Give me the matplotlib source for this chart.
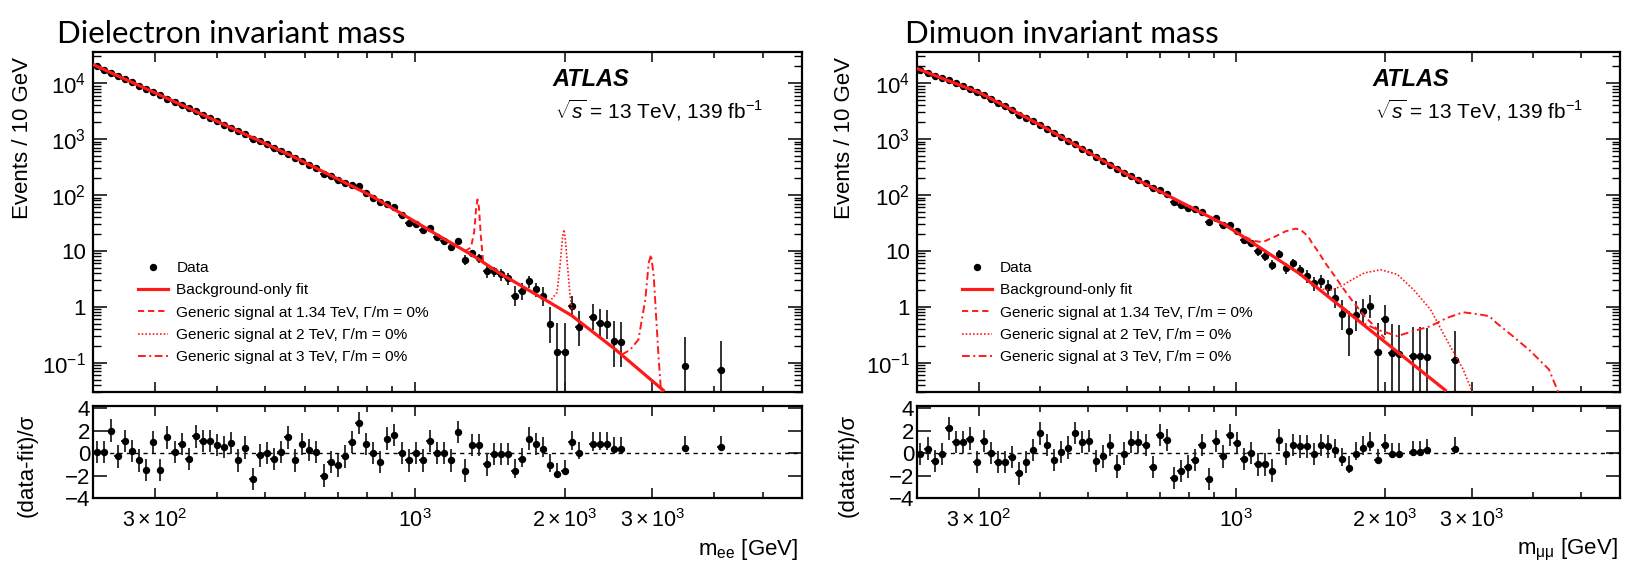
import numpy as np
import matplotlib
matplotlib.use("Agg")
import matplotlib.pyplot as plt
from matplotlib.lines import Line2D
from matplotlib.ticker import FixedLocator, FixedFormatter, NullFormatter

plt.rcParams['font.family'] = ['Liberation Sans', 'DejaVu Sans']
plt.rcParams['mathtext.fontset'] = 'custom'
plt.rcParams['mathtext.rm'] = 'Liberation Sans'
plt.rcParams['mathtext.it'] = 'Liberation Sans:italic'
plt.rcParams['mathtext.bf'] = 'Liberation Sans:bold'

nan = np.nan

# log-spaced bin centres [GeV], shared by both channels
MASS = [
    228.7, 236.4, 244.3, 252.5, 260.9, 269.6, 278.6, 287.9, 297.5, 307.4,
    317.7, 328.3, 339.3, 350.6, 362.3, 374.4, 386.9, 399.8, 413.2, 426.9,
    441.2, 455.9, 471.1, 486.9, 503.1, 519.9, 537.3, 555.2, 573.7, 592.9,
    612.7, 633.1, 654.3, 676.1, 698.7, 722.0, 746.1, 771.0, 796.8, 823.4,
    850.9, 879.3, 908.6, 939.0, 970.3, 1002.3, 1035.8, 1070.4, 1106.1, 1143.0,
    1181.2, 1220.6, 1261.4, 1303.5, 1347.0, 1392.0, 1438.5, 1486.5, 1536.1, 1587.4,
    1640.4, 1695.2, 1751.8, 1810.3, 1870.7, 1933.2, 1997.7, 2064.4, 2133.3, 2204.5,
    2278.1, 2354.2, 2432.8, 2514.0, 2597.9, 2684.6, 2774.2, 2866.8, 2962.5, 3061.4,
    3163.6, 3269.2, 3378.3, 3491.1, 3607.6, 3728.0, 3852.5, 3981.1, 4114.0,
]
BIN_WIDTH_FRAC = 0.03283   # bin width / centre
HALF_UP, HALF_DN = 0.01655, 0.01628

# events / 10 GeV
EE_EVENTS = [
    19900, 17400, 15300, 13300, 11700, 10300, 8970, 7850, 6900, 6030,
    5300, 4630, 4070, 3550, 3110, 2720, 2380, 2070, 1810, 1580,
    1375, 1210, 1000, 918, 804, 700, 615, 540, 463, 402,
    347, 299, 236, 215, 184, 164, 149, 143, 108, 90,
    75, 69.5, 60, 44.5, 31.6, 29.7, 24, 25.7, 18, 14.8,
    11.8, 14.8, 7.0, 9.1, 7.5, 4.3, 4.3, 3.8, 3.3, 1.55,
    1.9, 2.9, 2.1, 1.55, 0.50, 0.153, 0.153, 1.03, 0.43, nan,
    0.67, 0.52, 0.50, 0.242, 0.235, nan, nan, nan, nan, nan,
    nan, nan, nan, 0.087, nan, nan, nan, nan, 0.074,
]
EE_PULL = [
    0.1, 0.1, 2.0, -0.3, 1.1, 0.2, -0.65, -1.5, 1.0, -1.5,
    1.4, 0.1, 0.8, -0.5, 1.5, 1.1, 1.1, 0.7, 0.55, 0.9,
    -0.65, 0.5, -2.3, -0.2, 0.0, -0.5, 0.1, 1.4, -0.65, 0.8,
    0.3, 0.1, -2.0, -0.8, -1.1, -0.3, 1.0, 2.7, 0.8, 0.0,
    -0.8, 1.3, 1.6, 0.0, -0.65, 0.0, -0.65, 1.1, 0.0, 0.0,
    -0.65, 1.9, -1.55, 0.7, 0.7, -1.0, -0.1, -0.1, -0.1, -1.55,
    -0.5, 1.3, 0.8, 0.4, -1.1, -1.9, -1.6, 1.0, 0.0, nan,
    0.85, 0.85, 0.85, 0.4, 0.4, nan, nan, nan, nan, nan,
    nan, nan, nan, 0.5, nan, nan, nan, nan, 0.55,
]
MM_EVENTS = [
    17200, 15400, 13600, 12300, 11200, 9850, 8800, 7900, 6980, 6200,
    5280, 4500, 3850, 3300, 2740, 2410, 2080, 1800, 1520, 1283,
    1095, 932, 800, 676, 575, 480, 408, 350, 290, 251,
    217, 187, 161, 133, 124, 105, 75, 67.5, 59, 55,
    50, 33, 38, 29.5, 29.5, 23, 15.8, 13.8, 9.9, 8.0,
    5.7, 8.9, 5.0, 6.1, 4.6, 3.6, 2.7, 2.9, 2.3, 1.45,
    0.73, 0.37, 0.70, 0.84, 1.03, 0.157, 0.61, 0.148, 0.143, nan,
    0.134, 0.130, 0.125, nan, nan, nan, 0.110, nan, nan, nan,
    nan, nan, nan, nan, nan, nan, nan, nan, nan,
]
MM_PULL = [
    -0.1, 0.4, -0.7, -0.1, 2.2, 1.0, 1.0, 1.3, -0.8, 1.1,
    0.0, -0.8, -0.8, -0.35, -1.8, -0.8, 0.3, 1.75, 0.7, -0.6,
    0.1, 0.5, 1.8, 1.0, 1.1, -0.7, -0.3, 0.7, -1.2, -0.05,
    1.0, 1.0, 0.7, -1.25, 1.6, 1.15, -2.2, -1.6, -1.2, -0.6,
    0.7, -2.3, 1.1, -0.3, 1.6, 0.9, -0.5, 0.0, -1.0, -1.0,
    -1.55, 1.15, -0.1, 0.7, 0.6, 0.6, -0.1, 0.7, 0.6, 0.25,
    -0.5, -1.3, -0.05, 0.5, 0.85, -0.65, 0.7, -0.1, -0.1, nan,
    0.1, 0.1, 0.25, nan, nan, nan, 0.4, nan, nan, nan,
    nan, nan, nan, nan, nan, nan, nan, nan, nan,
]

# background-only fit, sampled along the curve
EE_FIT_MASS = [225, 352, 560, 812, 1002, 1106, 1303, 1486, 1810, 2064, 2514, 3172]
EE_FIT_VALUE = [21500, 3500, 518, 99, 33, 19.5, 8.4, 3.9, 1.4, 0.7, 0.18, 0.031]
MM_FIT_MASS = [225, 303, 404, 612, 950, 1339, 2669]
MM_FIT_VALUE = [18200, 6600, 1700, 212, 29, 4.0, 0.031]

# signal + background curves (Γ/m = 0%)
EE_SIG134_MASS = [1260, 1295, 1315, 1327, 1335, 1344, 1355, 1370]
EE_SIG134_VALUE = [9.9, 11.5, 22, 60, 83, 60, 20, 6.5]
EE_SIG2_MASS = [1860, 1929, 1959, 1980, 1993, 2005, 2026, 2050, 2075]
EE_SIG2_VALUE = [1.21, 1.8, 6.1, 18, 24, 16, 5.3, 1.55, 0.66]
EE_SIG3_MASS = [2600, 2707, 2813, 2904, 2950, 2983, 3020, 3053, 3090, 3124]
EE_SIG3_VALUE = [0.139, 0.17, 0.26, 1.35, 6.1, 8.5, 3.5, 0.68, 0.115, 0.03]

MM_SIG134_MASS = [1000, 1080, 1130, 1202, 1260, 1318, 1349, 1400, 1423, 1468,
                  1514, 1585, 1634, 1711, 1820, 1905, 2000]
MM_SIG134_VALUE = [21.5, 15.2, 14.3, 18.3, 22.5, 25, 24, 18, 13.9, 9.5,
                   6.1, 3.5, 2.35, 1.35, 0.68, 0.45, 0.27]
MM_SIG2_MASS = [1339, 1468, 1560, 1634, 1720, 1820, 1963, 2121, 2291, 2475,
                2669, 2884, 3020]
MM_SIG2_VALUE = [4.0, 2.1, 2.0, 2.35, 3.1, 4.05, 4.6, 3.8, 2.0, 0.9,
                 0.26, 0.076, 0.028]
MM_SIG3_MASS = [1640, 1780, 1932, 2121, 2291, 2475, 2669, 2884, 3116, 3258,
                3365, 3635, 3925, 4305, 4510]
MM_SIG3_VALUE = [1.0, 0.55, 0.39, 0.30, 0.37, 0.45, 0.63, 0.80, 0.73, 0.68,
                 0.52, 0.30, 0.17, 0.076, 0.028]

SIGNAL_LABELS = [
    'Generic signal at 1.34 TeV, Γ/m = 0%',
    'Generic signal at 2 TeV, Γ/m = 0%',
    'Generic signal at 3 TeV, Γ/m = 0%',
]

# 68% Garwood intervals for small counts
GARWOOD = {0: (0.0, 1.841), 1: (0.173, 3.300), 2: (0.708, 4.638), 3: (1.367, 5.918),
           4: (2.086, 7.163), 5: (2.840, 8.382), 6: (3.620, 9.584), 7: (4.419, 10.77),
           8: (5.232, 11.95), 9: (6.057, 13.11), 10: (6.891, 14.27)}

RED = '#ff1a1a'
W, H = 1626, 562
fig = plt.figure(figsize=(W / 100, H / 100), dpi=100)
fig.patch.set_facecolor('white')


def px_axes(left, top, right, bottom):
    return fig.add_axes([left / W, 1 - bottom / H, (right - left) / W, (bottom - top) / H])


def poisson_errors(values, centres):
    lo, hi = [], []
    for v, c in zip(values, centres):
        n_raw = v * c * BIN_WIDTH_FRAC / 10.0
        n = int(round(n_raw))
        if 0 < n <= 10:
            a, b = GARWOOD[n]
            lo.append(v * (n - a) / n)
            hi.append(v * (b - n) / n)
        else:
            e = v / np.sqrt(n_raw)
            lo.append(e)
            hi.append(e)
    return np.array(lo), np.array(hi)


def style_x(ax, labels):
    ax.set_xscale('log')
    ax.set_xlim(225, 6000)
    ax.xaxis.set_major_locator(FixedLocator([300, 1000, 2000, 3000]))
    ax.xaxis.set_minor_locator(FixedLocator([400, 500, 600, 700, 800, 900, 4000, 5000]))
    ax.xaxis.set_minor_formatter(NullFormatter())
    if labels:
        ax.xaxis.set_major_formatter(FixedFormatter(
            [r'$3\times10^{2}$', r'$10^{3}$', r'$2\times10^{3}$', r'$3\times10^{3}$']))
    else:
        ax.xaxis.set_major_formatter(NullFormatter())
    ax.tick_params(axis='x', which='major', length=7, width=1.1, direction='in',
                   top=True, bottom=True, labelsize=15.5, pad=8)
    ax.tick_params(axis='x', which='minor', length=4.5, width=1.1, direction='in',
                   top=True, bottom=True)
    for sp in ax.spines.values():
        sp.set_linewidth(1.6)


def draw_channel(ax, axr, events, pulls, fit_m, fit_v, signals, xlabel, xlabel_x):
    m = np.array(MASS)
    ev = np.array(events, dtype=float)
    pl = np.array(pulls, dtype=float)
    ok = ~np.isnan(ev)
    mx, vx = m[ok], ev[ok]
    ylo, yhi = poisson_errors(vx, mx)
    xerr = [mx * HALF_DN, mx * HALF_UP]

    ax.set_yscale('log')
    ax.set_ylim(0.03, 3.6e4)
    ax.errorbar(mx, vx, yerr=[ylo, yhi], xerr=xerr, fmt='o', ms=4.3, color='black',
                ecolor='#222222', elinewidth=1.3, capsize=0, zorder=2)
    ax.plot(fit_m, fit_v, color=RED, lw=2.3, zorder=4, solid_capstyle='butt')
    styles = [dict(ls=(0, (3.2, 2.0)), lw=1.4), dict(ls=(0, (1.0, 1.2)), lw=1.2),
              dict(ls=(0, (4, 1.8, 1, 1.8)), lw=1.4)]
    for (sm, sv), st in zip(signals, styles):
        ax.plot(sm, sv, color=RED, zorder=3, **st)

    style_x(ax, labels=False)
    decades = [0.1, 1, 10, 100, 1e3, 1e4]
    ax.yaxis.set_major_locator(FixedLocator(decades))
    ax.yaxis.set_major_formatter(FixedFormatter(
        [r'$10^{-1}$', '1', '10', r'$10^{2}$', r'$10^{3}$', r'$10^{4}$']))
    ax.yaxis.set_minor_locator(FixedLocator([s * 10.0 ** e for e in range(-2, 5) for s in range(2, 10)]))
    ax.yaxis.set_minor_formatter(NullFormatter())
    ax.tick_params(axis='y', which='major', length=10, width=1.1, direction='in',
                   left=True, right=True, labelsize=16, pad=5)
    ax.tick_params(axis='y', which='minor', length=5.5, width=1.0, direction='in',
                   left=True, right=True)

    handles = [
        Line2D([], [], ls='none', marker='o', ms=4.3, color='black'),
        Line2D([], [], color=RED, lw=2.3),
    ] + [Line2D([], [], color=RED, **st) for st in styles]
    ax.legend(handles, ['Data', 'Background-only fit'] + SIGNAL_LABELS,
              loc='upper left', bbox_to_anchor=(0.064, 0.385), frameon=False,
              fontsize=11.1, handlelength=1.95, handletextpad=0.52,
              labelspacing=0.54, borderpad=0, borderaxespad=0)

    ax.text(0.648, 0.918, 'ATLAS', transform=ax.transAxes, fontsize=17,
            fontweight='bold', fontstyle='italic', va='center', ha='left')
    ax.text(0.652, 0.829, r'$\sqrt{s}$ = 13 TeV, 139 fb$^{-1}$', transform=ax.transAxes,
            fontsize=15, va='center', ha='left')

    # pull panel
    pk = ~np.isnan(pl)
    pm, pv = m[pk], pl[pk]
    pev = ev[pk]
    lo_p = []
    for v, c in zip(pev, pm):
        n = int(round(v * c * BIN_WIDTH_FRAC / 10.0))
        if 0 < n <= 10:
            a, b = GARWOOD[n]
            lo_p.append((n - a) / (b - n))
        else:
            lo_p.append(1.0)
    axr.axhline(0, color='black', lw=1.0, ls=(0, (3, 3)), zorder=1)
    axr.errorbar(pm, pv, yerr=[lo_p, np.ones_like(pv)], xerr=[pm * HALF_DN, pm * HALF_UP],
                 fmt='o', ms=4.3, color='black', ecolor='#222222', elinewidth=1.3,
                 capsize=0, zorder=2)
    axr.set_ylim(-4, 4.2)
    style_x(axr, labels=True)
    axr.yaxis.set_major_locator(FixedLocator([-4, -2, 0, 2, 4]))
    axr.yaxis.set_major_formatter(FixedFormatter(['\u22124', '\u22122', '0', '2', '4']))
    axr.tick_params(axis='y', which='major', length=10, width=1.1, direction='in',
                    left=True, right=True, labelsize=16, pad=2)
    axr.tick_params(axis='y', which='minor', left=False, right=False)

    fig.text(xlabel_x / W, 1 - 550 / H, xlabel, fontsize=16, ha='right', va='center')


ee_main = px_axes(93, 52, 802, 392)
ee_pull = px_axes(93, 406, 802, 498)
mm_main = px_axes(917, 52, 1620, 392)
mm_pull = px_axes(917, 406, 1620, 498)

draw_channel(ee_main, ee_pull, EE_EVENTS, EE_PULL, EE_FIT_MASS, EE_FIT_VALUE,
             [(EE_SIG134_MASS, EE_SIG134_VALUE), (EE_SIG2_MASS, EE_SIG2_VALUE),
              (EE_SIG3_MASS, EE_SIG3_VALUE)],
             r'm$_{\rm ee}$ [GeV]', 798)
draw_channel(mm_main, mm_pull, MM_EVENTS, MM_PULL, MM_FIT_MASS, MM_FIT_VALUE,
             [(MM_SIG134_MASS, MM_SIG134_VALUE), (MM_SIG2_MASS, MM_SIG2_VALUE),
              (MM_SIG3_MASS, MM_SIG3_VALUE)],
             r'm$_{\rm μμ}$ [GeV]', 1618)

# axis titles
for x0, x1 in [(23, 27), (845, 848)]:
    fig.text(x0 / W, 1 - 57 / H, 'Events / 10 GeV', rotation=90, fontsize=16,
             ha='center', va='top')
    fig.text(x1 / W, 1 - 465 / H, '(data-fit)/σ', rotation=90, fontsize=16,
             ha='center', va='center')

# panel titles
title_font = ['Lato', 'DejaVu Sans']
fig.text(57 / W, 1 - 43 / H, 'Dielectron invariant mass', fontsize=22.5,
         family=title_font, ha='left', va='baseline')
fig.text(905 / W, 1 - 43 / H, 'Dimuon invariant mass', fontsize=22.5,
         family=title_font, ha='left', va='baseline')

fig.savefig('out.png', dpi=100, facecolor='white')
